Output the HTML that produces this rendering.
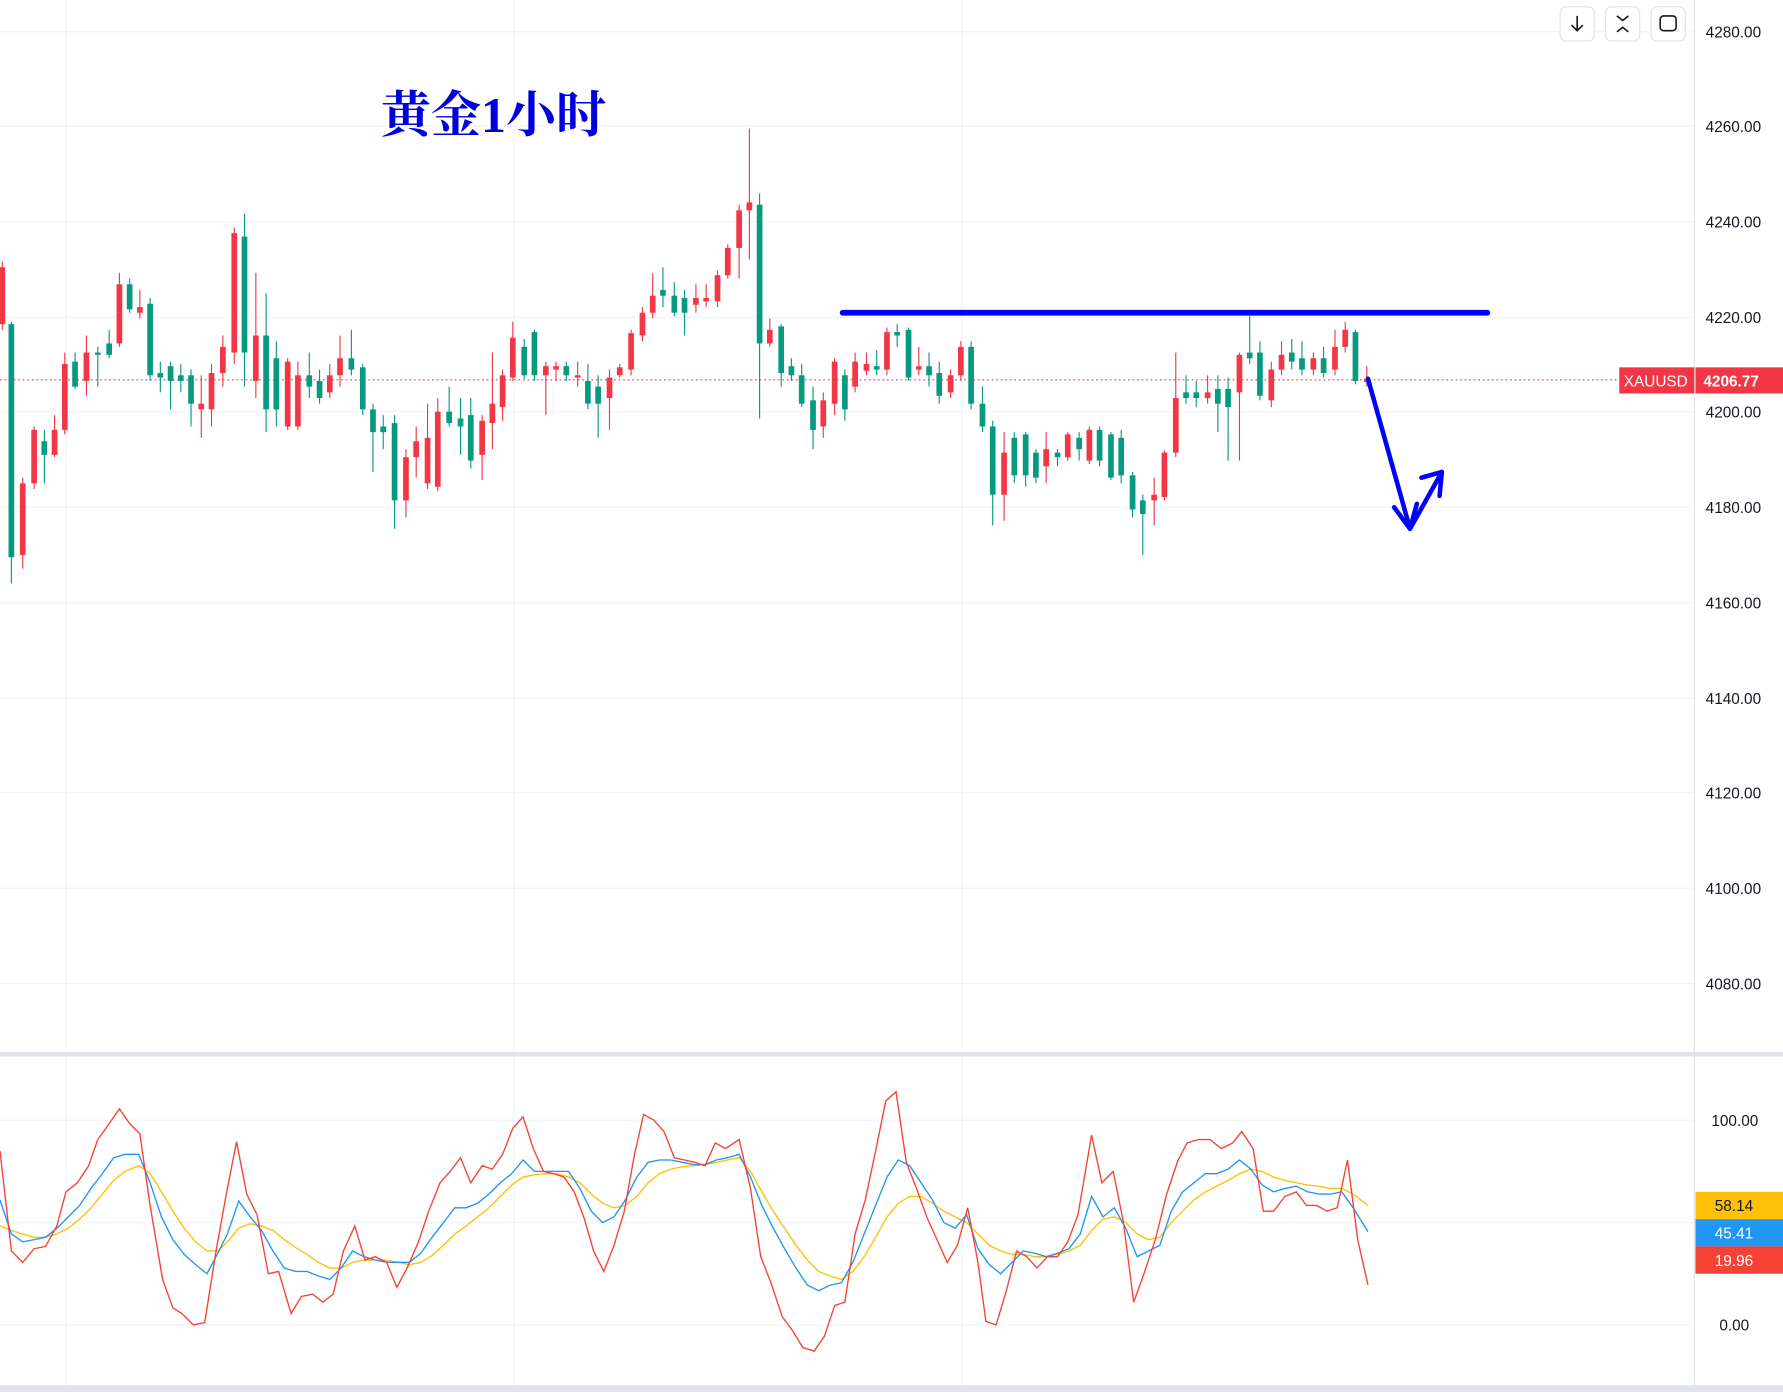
<!DOCTYPE html>
<html><head><meta charset="utf-8"><style>
html,body{margin:0;padding:0;background:#fff;width:1783px;height:1392px;overflow:hidden}
svg{display:block}
.ax{font-family:"Liberation Sans",sans-serif;font-size:13.5px;fill:#131722}
</style></head><body>
<svg id="s" width="1783" height="1392" viewBox="0 0 1568 1224" preserveAspectRatio="none" xmlns="http://www.w3.org/2000/svg">
<rect width="1568" height="1224" fill="#fff"/>
<g stroke="#f0f3fa" stroke-width="1">
<line x1="0" y1="28" x2="1490" y2="28"/><line x1="0" y1="111" x2="1490" y2="111"/><line x1="0" y1="195" x2="1490" y2="195"/><line x1="0" y1="279" x2="1490" y2="279"/><line x1="0" y1="362" x2="1490" y2="362"/><line x1="0" y1="446" x2="1490" y2="446"/><line x1="0" y1="530" x2="1490" y2="530"/><line x1="0" y1="614" x2="1490" y2="614"/><line x1="0" y1="697" x2="1490" y2="697"/><line x1="0" y1="781" x2="1490" y2="781"/><line x1="0" y1="865" x2="1490" y2="865"/>
<line x1="58" y1="0" x2="58" y2="925"/><line x1="452" y1="0" x2="452" y2="925"/><line x1="846" y1="0" x2="846" y2="925"/>
<line x1="58" y1="930" x2="58" y2="1218"/><line x1="452" y1="930" x2="452" y2="1218"/><line x1="846" y1="930" x2="846" y2="1218"/>
<line x1="0" y1="985" x2="1490" y2="985"/><line x1="0" y1="1075" x2="1490" y2="1075"/><line x1="0" y1="1165" x2="1490" y2="1165"/>
</g>
<rect x="0" y="925" width="1568" height="4" fill="#e0e3eb"/>
<rect x="0" y="1218" width="1568" height="6" fill="#e0e3eb"/>
<line x1="1490" y1="0" x2="1490" y2="1224" stroke="#e0e3eb" stroke-width="1"/>
<line x1="0" y1="334" x2="1424" y2="334" stroke="#f23645" stroke-width="1" stroke-dasharray="1.5,2.5"/>
<g id="c"></g>
<g id="o" fill="none" stroke-width="1.2"></g>
<line x1="741" y1="275" x2="1308" y2="275" stroke="#0000ff" stroke-width="5" stroke-linecap="round"/>
<g stroke="#0000ff" stroke-width="4" fill="none" stroke-linecap="round" stroke-linejoin="round">
<polyline points="1203,333 1240,465 1268,415"/>
<polyline points="1226,446 1240,465 1246,443"/>
<polyline points="1250,420 1268,415 1266,436"/>
</g>
<text x="335" y="116" font-family="'Liberation Serif','Noto Serif CJK SC',serif" font-weight="bold" font-size="44" fill="#0000dd">黄金1小时</text>
<g fill="#fff" stroke="#e0e3eb"><rect x="1372" y="6" width="30" height="30" rx="5"/><rect x="1412" y="6" width="30" height="30" rx="5"/><rect x="1452" y="6" width="30" height="30" rx="5"/></g>
<g stroke="#131722" stroke-width="1.4" fill="none"><path d="M1387 14v13M1382 22l5 5 5-5"/><path d="M1422 14l5 4 5-4M1422 28l5-4 5 4"/><rect x="1460" y="14" width="14" height="13" rx="3"/></g>
<g class="ax">
<text x="1500" y="33">4280.00</text><text x="1500" y="116">4260.00</text><text x="1500" y="200">4240.00</text><text x="1500" y="284">4220.00</text><text x="1500" y="367">4200.00</text><text x="1500" y="451">4180.00</text><text x="1500" y="535">4160.00</text><text x="1500" y="619">4140.00</text><text x="1500" y="702">4120.00</text><text x="1500" y="786">4100.00</text><text x="1500" y="870">4080.00</text>
<text x="1505" y="990">100.00</text><text x="1512" y="1170">0.00</text>
</g>
<rect x="1424" y="323" width="66" height="23" fill="#f23645"/><rect x="1491" y="323" width="77" height="23" fill="#f23645"/>
<text x="1428" y="340" class="ax" fill="#fff" style="fill:#fff">XAUUSD</text><text x="1498" y="340" class="ax" style="fill:#fff;font-weight:bold">4206.77</text>
<rect x="1491" y="1048" width="77" height="24" fill="#ffc107"/><rect x="1491" y="1072" width="77" height="24" fill="#2196f3"/><rect x="1491" y="1096" width="77" height="24" fill="#f44336"/>
<text x="1508" y="1065" class="ax">58.14</text><text x="1508" y="1089" class="ax" style="fill:#fff">45.41</text><text x="1508" y="1113" class="ax" style="fill:#fff">19.96</text>
</svg>
<script>
var C=[[2,235,285,230,290,'r'],[10,285,490,283,513,'g'],[20,425,488,420,500,'r'],[30,378,425,375,430,'r'],[39,388,400,378,425,'g'],[48,378,400,365,402,'r'],[57,320,378,310,382,'r'],[66,318,340,310,342,'g'],[76,310,335,295,348,'r'],[86,310,312,305,340,'g'],[96,302,312,290,315,'g'],[105,250,302,240,305,'r'],[114,250,272,245,275,'g'],[123,270,275,255,280,'r'],[132,267,330,262,335,'g'],[141,328,332,318,345,'g'],[150,322,335,318,360,'g'],[159,330,335,320,345,'g'],[168,330,355,325,375,'g'],[177,355,360,330,385,'r'],[186,328,360,320,375,'r'],[196,305,328,295,340,'r'],[206,205,310,200,320,'r'],[215,208,310,188,340,'g'],[225,295,335,240,350,'r'],[234,295,360,258,380,'g'],[243,315,360,300,375,'g'],[253,318,375,315,378,'r'],[262,330,375,318,378,'r'],[272,330,340,310,350,'g'],[281,335,350,325,355,'g'],[290,330,345,320,350,'r'],[299,315,330,295,340,'r'],[309,315,325,290,330,'g'],[319,323,360,320,365,'g'],[328,360,380,355,415,'g'],[337,375,380,365,395,'g'],[347,372,440,365,465,'g'],[357,402,440,395,455,'r'],[366,388,402,375,420,'r'],[376,385,425,355,430,'r'],[385,362,428,350,432,'r'],[395,362,372,340,375,'g'],[405,368,375,350,400,'g'],[414,365,405,350,412,'g'],[424,370,400,365,422,'r'],[433,355,372,310,395,'r'],[442,330,358,325,370,'r'],[451,297,332,283,335,'r'],[461,305,330,298,333,'g'],[470,292,330,290,335,'g'],[480,322,330,318,365,'r'],[489,322,325,318,335,'r'],[498,322,330,318,335,'g'],[508,330,332,318,340,'r'],[517,335,355,320,360,'g'],[526,340,355,330,385,'g'],[536,332,350,325,378,'r'],[545,323,330,320,332,'r'],[555,293,325,290,330,'r'],[565,275,295,270,300,'r'],[574,260,275,240,280,'r'],[583,255,260,235,270,'g'],[593,260,275,248,278,'g'],[602,262,275,255,295,'g'],[612,262,268,250,275,'r'],[621,262,265,250,270,'r'],[631,242,265,238,270,'r'],[640,218,242,215,245,'r'],[650,185,218,180,245,'r'],[659,178,185,113,228,'r'],[668,180,302,170,368,'g'],[677,290,302,280,305,'r'],[687,287,328,285,340,'g'],[696,322,330,315,335,'g'],[705,330,355,320,358,'g'],[715,352,378,340,395,'g'],[724,352,375,345,385,'r'],[734,318,355,315,365,'r'],[743,330,360,325,370,'g'],[752,318,340,310,345,'r'],[762,320,326,310,330,'r'],[771,322,325,308,330,'g'],[780,292,325,288,330,'r'],[789,292,295,285,305,'g'],[799,290,332,288,335,'g'],[808,322,325,305,330,'r'],[817,322,330,310,340,'g'],[826,328,348,318,355,'g'],[836,330,345,325,350,'r'],[845,305,330,300,335,'r'],[854,305,355,300,360,'g'],[864,355,375,340,380,'g'],[873,375,435,370,462,'g'],[883,398,435,380,458,'r'],[892,385,418,380,425,'g'],[902,382,418,380,428,'g'],[911,398,420,395,425,'g'],[920,395,410,380,425,'r'],[930,398,402,395,410,'g'],[939,382,402,380,405,'r'],[949,385,395,380,405,'g'],[958,378,405,375,408,'r'],[967,378,405,375,410,'g'],[977,382,420,380,422,'g'],[986,385,418,378,425,'g'],[996,418,448,415,455,'g'],[1005,440,452,435,488,'g'],[1015,435,440,420,462,'r'],[1024,398,437,396,440,'r'],[1034,350,398,310,402,'r'],[1043,345,350,330,355,'g'],[1052,345,350,335,358,'g'],[1062,345,350,330,355,'r'],[1071,342,355,330,380,'g'],[1080,342,358,332,405,'g'],[1090,312,345,310,405,'r'],[1099,310,315,278,320,'g'],[1108,310,348,300,352,'g'],[1118,325,352,318,358,'r'],[1127,312,325,300,330,'r'],[1136,310,318,298,325,'g'],[1145,315,325,300,330,'g'],[1155,315,325,310,330,'r'],[1164,315,328,305,332,'g'],[1174,305,325,290,330,'r'],[1183,290,305,283,310,'r'],[1192,292,335,290,338,'g'],[1202,333,336,322,340,'r']];
var h='';C.forEach(function(c){var col=c[5]=='g'?'#089981':'#f23645';h+='<line x1="'+c[0]+'" x2="'+c[0]+'" y1="'+c[3]+'" y2="'+c[4]+'" stroke="'+col+'" stroke-width="1"/><rect x="'+(c[0]-2.5)+'" y="'+c[1]+'" width="5" height="'+Math.max(1.5,c[2]-c[1])+'" fill="'+col+'"/>';});
document.getElementById('c').innerHTML=h;
var R="0,1012 10,1100 20,1110 30,1098 40,1096 50,1078 58,1048 68,1040 78,1025 86,1002 96,988 105,975 114,988 123,997 132,1060 143,1125 152,1150 160,1155 170,1165 180,1163 190,1100 199,1050 208,1004 217,1050 226,1068 236,1120 245,1118 256,1155 265,1140 275,1138 284,1145 293,1138 302,1100 312,1078 321,1108 330,1105 340,1110 349,1132 358,1115 368,1092 377,1065 387,1040 396,1030 405,1018 414,1040 424,1025 433,1028 442,1015 451,992 460,982 469,1010 478,1030 487,1032 496,1035 505,1048 514,1072 522,1100 531,1118 540,1095 549,1065 558,1015 566,980 575,985 584,995 593,1018 602,1020 611,1022 620,1025 629,1005 638,1010 650,1002 660,1045 669,1105 678,1128 688,1158 697,1170 706,1185 716,1188 725,1175 734,1148 743,1145 752,1085 761,1055 770,1012 779,968 788,960 797,1022 806,1045 815,1070 824,1090 833,1110 842,1095 851,1062 860,1110 867,1162 876,1165 885,1135 894,1100 903,1105 912,1115 921,1105 930,1105 939,1092 948,1068 960,998 969,1040 979,1030 988,1075 997,1145 1006,1120 1016,1090 1026,1050 1036,1020 1044,1005 1054,1002 1064,1002 1074,1010 1084,1005 1092,995 1102,1010 1111,1065 1120,1065 1130,1052 1140,1048 1149,1060 1158,1060 1167,1065 1176,1062 1185,1020 1194,1090 1203,1130";
var B="0,1055 10,1085 20,1092 30,1090 40,1088 50,1080 60,1070 70,1060 80,1045 90,1032 100,1018 110,1015 122,1015 132,1040 142,1070 152,1090 162,1103 172,1112 182,1120 190,1105 200,1085 210,1056 220,1070 230,1082 240,1100 250,1115 260,1118 270,1118 280,1122 290,1125 300,1115 310,1100 320,1105 330,1108 340,1110 350,1110 360,1110 370,1102 380,1088 390,1075 400,1062 410,1062 420,1058 430,1050 440,1040 450,1032 460,1020 470,1030 480,1030 490,1030 500,1030 510,1045 520,1065 530,1075 540,1070 550,1055 560,1035 570,1022 580,1020 590,1020 600,1022 610,1024 620,1024 630,1020 640,1018 650,1015 660,1035 670,1060 680,1080 690,1098 700,1115 710,1130 720,1135 730,1130 740,1128 750,1110 760,1085 770,1060 780,1035 790,1020 800,1025 810,1040 820,1055 830,1075 840,1080 850,1068 860,1098 870,1112 880,1120 890,1110 900,1100 910,1102 920,1105 930,1102 940,1098 950,1085 960,1052 970,1070 980,1062 990,1080 1000,1105 1010,1100 1020,1095 1030,1065 1040,1048 1050,1040 1060,1032 1070,1032 1080,1028 1090,1020 1100,1028 1110,1042 1120,1048 1130,1045 1140,1043 1150,1048 1160,1050 1170,1050 1180,1048 1190,1062 1203,1083";
var Y="0,1078 10,1082 20,1085 30,1088 40,1088 50,1085 60,1080 70,1072 80,1062 90,1050 100,1038 110,1030 122,1025 132,1032 142,1048 152,1065 162,1080 172,1092 182,1100 192,1100 200,1092 210,1080 220,1076 230,1078 240,1082 250,1090 260,1097 270,1103 280,1110 290,1115 300,1115 310,1110 320,1108 330,1108 340,1108 350,1110 360,1112 370,1110 380,1104 390,1095 400,1085 410,1078 420,1070 430,1062 440,1052 450,1042 460,1035 470,1033 480,1032 490,1032 500,1035 510,1040 520,1050 530,1058 540,1062 550,1060 560,1052 570,1040 580,1032 590,1028 600,1026 610,1025 620,1024 630,1022 640,1020 650,1018 660,1030 670,1048 680,1065 690,1080 700,1095 710,1108 720,1118 730,1122 740,1125 750,1118 760,1105 770,1088 780,1070 790,1058 800,1052 810,1052 820,1058 830,1065 840,1070 850,1075 860,1085 870,1095 880,1100 890,1103 900,1103 910,1105 920,1105 930,1103 940,1100 950,1095 960,1082 970,1072 980,1070 990,1075 1000,1085 1010,1090 1020,1088 1030,1075 1040,1065 1050,1055 1060,1048 1070,1043 1080,1038 1090,1032 1100,1028 1110,1030 1120,1035 1130,1038 1140,1040 1150,1042 1160,1043 1170,1045 1180,1045 1190,1050 1203,1060";
document.getElementById('o').innerHTML='<polyline points="'+Y+'" stroke="#ffc107"/><polyline points="'+B+'" stroke="#2196f3"/><polyline points="'+R+'" stroke="#f44336"/>';
</script>
</body></html>
